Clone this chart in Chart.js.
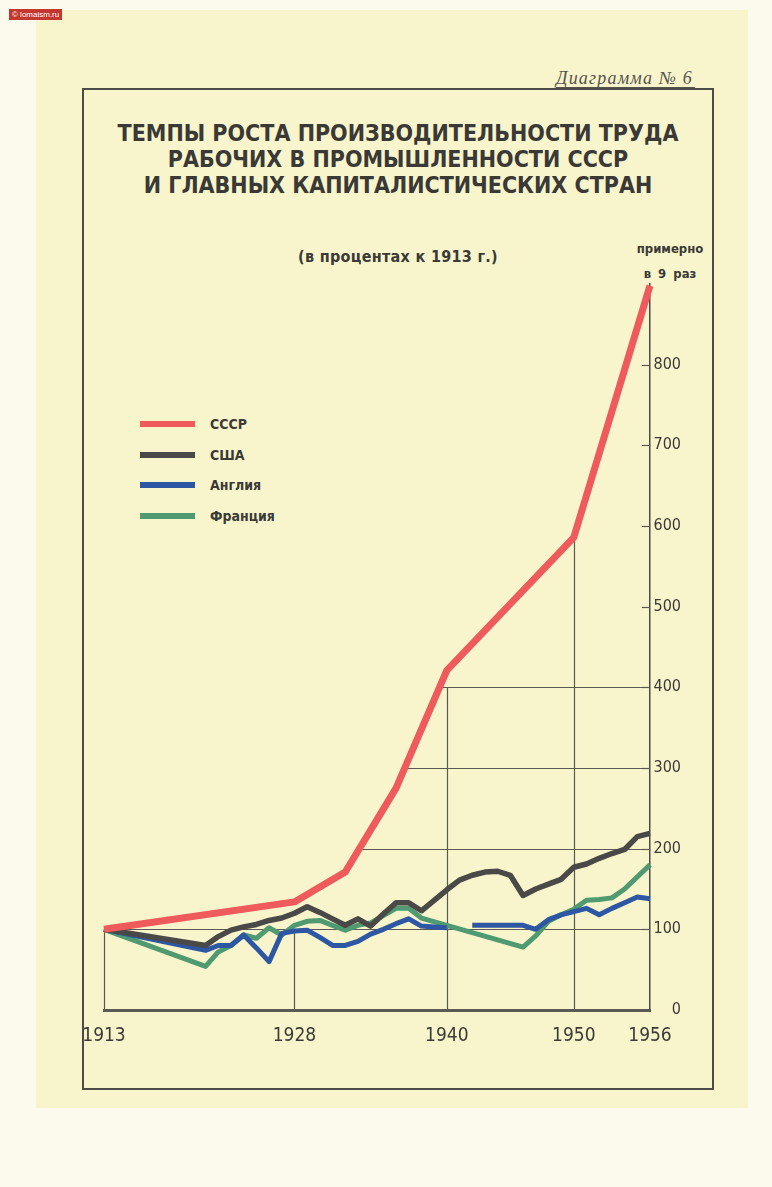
<!DOCTYPE html>
<html lang="ru">
<head>
<meta charset="utf-8">
<title>Темпы роста производительности труда</title>
<script src="https://cdn.jsdelivr.net/npm/chart.js@4.4.1/dist/chart.umd.min.js"></script>
<style>
  html, body { margin: 0; padding: 0; }
  body {
    width: 772px; height: 1187px; position: relative; overflow: hidden;
    background: #fbfaec; color: #3b3a36;
    font-family: 'DejaVu Sans Condensed', 'Liberation Sans', sans-serif;
  }
  #paper { position: absolute; left: 36px; top: 10px; width: 712px; height: 1098px; background: #f8f5cc; }
  #frame { position: absolute; left: 82px; top: 88px; width: 628px; height: 998px; border: 2px solid #4d4b45; }
  #badge {
    position: absolute; left: 9px; top: 9px; padding: 1px 3px;
    background: #c4372f; color: #fff; font: 8px 'Liberation Sans', sans-serif;
  }
  #num {
    position: absolute; left: 556px; top: 69px; font-family: 'Liberation Serif', serif;
    font-style: italic; font-size: 18px; letter-spacing: 1.2px; color: #55534c;
    border-bottom: 1.5px solid #55534c; line-height: 18px; padding-right: 2px;
  }
  #title {
    position: absolute; left: 82px; width: 632px; top: 120px; text-align: center;
    font-weight: bold; font-size: 23px; line-height: 26px; color: #3a3935; white-space: nowrap;
  }
  #sub {
    position: absolute; left: 82px; width: 632px; top: 247px; text-align: center;
    font-weight: bold; font-size: 16px; letter-spacing: 0.3px;
  }
  #approx { position: absolute; left: 630px; width: 80px; top: 236px; text-align: center; font-weight: bold; font-size: 13px; line-height: 25px; word-spacing: 3px; }
  #legend { position: absolute; left: 140px; top: 409px; }
  .row { height: 30.5px; display: flex; align-items: center; }
  .swatch { width: 55px; height: 6px; margin-right: 15px; }
  .lab { font-weight: bold; font-size: 14px; }
  canvas { position: absolute; left: 0; top: 0; }
</style>
</head>
<body>
<div id="paper"></div>
<div id="frame"></div>
<div id="badge">© lomaism.ru</div>
<div id="num">Диаграмма № 6</div>
<div id="title">ТЕМПЫ РОСТА ПРОИЗВОДИТЕЛЬНОСТИ ТРУДА<br>РАБОЧИХ В ПРОМЫШЛЕННОСТИ СССР<br>И ГЛАВНЫХ КАПИТАЛИСТИЧЕСКИХ СТРАН</div>
<div id="sub">(в процентах к 1913 г.)</div>
<div id="approx">примерно<br>в 9 раз</div>
<div id="legend"></div>
<canvas id="chart" width="772" height="1187"></canvas>
<script>
// productivity, 1913 = 100
const ussrYears = [1913, 1928, 1932, 1936, 1940, 1950, 1956];
const ussrValues = [100, 134, 171, 275, 421, 586, 898];

const years = [1913, 1921, 1922, 1923, 1924, 1925, 1926, 1927, 1928, 1929, 1930,
  1931, 1932, 1933, 1934, 1935, 1936, 1937, 1938, 1939, 1940,
  1941, 1942, 1943, 1944, 1945, 1946, 1947, 1948, 1949, 1950,
  1951, 1952, 1953, 1954, 1955, 1956];
const usaValues = [100, 80, 91, 99, 103, 106, 111, 114, 120, 128, 121,
  113, 105, 113, 104, 119, 133, 133, 123, 136, 149,
  161, 167, 171, 172, 167, 142, 150, 156, 162, 177,
  181, 188, 194, 199, 215, 219];
const englandValues = [100, 74, 80, 80, 93, 77, 60, 95, 98, 99, 90,
  80, 80, 85, 94, 100, 107, 113, 104, 103, 102,
  null, 105, 105, 105, 105, 105, 100, 112, 118, 122,
  126, 118, 126, 133, 140, 138];
const franceValues = [100, 54, 72, 80, 93, 89, 102, 93, 105, 110, 111,
  105, 99, 105, 108, 117, 126, 126, 114, null, null,
  null, null, null, null, null, 78, 92, 110, 118, 125,
  136, 137, 139, 150, 165, 180];

const names = ['СССР', 'США', 'Англия', 'Франция'];
const xTicks = [1913, 1928, 1940, 1950, 1956];
const gridValues = [100, 200, 300, 400];

const font = "'DejaVu Sans Condensed', 'Liberation Sans', sans-serif";
const ink = '#3b3a36';

function pts(xs, ys) {
  return xs.map((x, i) => ({ x: x, y: ys[i] }));
}

function ussrAt(year) {
  for (let i = 1; i < ussrYears.length; i++) {
    if (year <= ussrYears[i]) {
      const t = (year - ussrYears[i - 1]) / (ussrYears[i] - ussrYears[i - 1]);
      return ussrValues[i - 1] + t * (ussrValues[i] - ussrValues[i - 1]);
    }
  }
  return ussrValues[ussrValues.length - 1];
}

function ussrReaches(v) {
  if (v <= ussrValues[0]) return ussrYears[0];
  for (let i = 1; i < ussrValues.length; i++) {
    if (v <= ussrValues[i]) {
      const t = (v - ussrValues[i - 1]) / (ussrValues[i] - ussrValues[i - 1]);
      return ussrYears[i - 1] + t * (ussrYears[i] - ussrYears[i - 1]);
    }
  }
  return ussrYears[ussrYears.length - 1];
}

// grid in the original is stepped: lines run from the USSR curve to the axis
const stepGrid = {
  id: 'stepGrid',
  beforeDatasetsDraw(chart) {
    const { ctx, scales: { x, y } } = chart;
    ctx.save();
    ctx.strokeStyle = '#5a5850';
    ctx.lineWidth = 1.2;
    gridValues.forEach(v => {
      const py = Math.round(y.getPixelForValue(v)) + 0.5;
      ctx.beginPath();
      ctx.moveTo(x.getPixelForValue(ussrReaches(v)), py);
      ctx.lineTo(y.left, py);
      ctx.stroke();
    });
    xTicks.slice(0, -1).forEach(yr => {
      const u = ussrAt(yr);
      let top = Math.floor(u / 100) * 100;
      if (top > gridValues[gridValues.length - 1]) top = u;
      const px = Math.round(x.getPixelForValue(yr)) + 0.5;
      ctx.beginPath();
      ctx.moveTo(px, y.getPixelForValue(0));
      ctx.lineTo(px, y.getPixelForValue(top));
      ctx.stroke();
    });
    // short ticks on the inner side of the value axis
    for (let v = 0; v < 900; v += 100) {
      const py = Math.round(y.getPixelForValue(v)) + 0.5;
      ctx.beginPath();
      ctx.moveTo(y.left - 8, py);
      ctx.lineTo(y.left, py);
      ctx.stroke();
    }
    ctx.restore();
  }
};

const datasets = [{
  label: names[0],
  data: pts(ussrYears, ussrValues),
  borderColor: '#ef5a5c',
  borderWidth: 7
}, {
  label: names[1],
  data: pts(years, usaValues),
  borderColor: '#4b4947',
  borderWidth: 5.5,
  spanGaps: true
}, {
  label: names[2],
  data: pts(years, englandValues),
  borderColor: '#2d56a3',
  borderWidth: 5,
  spanGaps: false
}, {
  label: names[3],
  data: pts(years, franceValues),
  borderColor: '#4f9a70',
  borderWidth: 5,
  spanGaps: true
}];

const legend = document.getElementById('legend');
datasets.forEach(d => {
  const row = document.createElement('div');
  row.className = 'row';
  row.innerHTML = '<div class="swatch" style="background:' + d.borderColor + '"></div><span class="lab">' + d.label + '</span>';
  legend.appendChild(row);
});

const config = {
  type: 'line',
  data: { datasets: datasets },
  options: {
    responsive: false,
    animation: false,
    layout: { padding: { left: 104, top: 284, right: 91, bottom: 137 } },
    elements: {
      point: { radius: 0 },
      line: { tension: 0, borderJoinStyle: 'round', fill: false }
    },
    datasets: { line: { clip: false } },
    plugins: { legend: { display: false }, tooltip: { enabled: false } },
    scales: {
      x: {
        type: 'linear', min: 1913, max: 1956,
        grid: { display: false, drawTicks: false },
        border: { display: true, color: '#5b5a55', width: 3 },
        afterBuildTicks: s => { s.ticks = xTicks.map(v => ({ value: v })); },
        afterFit: s => { s.height = 40; },
        ticks: {
          autoSkip: false, maxRotation: 0, padding: 15,
          color: ink, font: { family: font, size: 19 },
          callback: v => String(v)
        }
      },
      y: {
        position: 'right', min: 0, max: 900,
        grid: { display: false, drawTicks: false },
        border: { display: true, color: '#4d4b45', width: 1.5 },
        afterFit: s => { s.width = 31; },
        ticks: {
          stepSize: 100, crossAlign: 'far', padding: 6,
          color: ink, font: { family: font, size: 16 },
          callback: v => (v === 900 ? '' : String(v))
        }
      }
    }
  },
  plugins: [stepGrid]
};

new Chart(document.getElementById('chart'), config);
</script>
</body>
</html>
